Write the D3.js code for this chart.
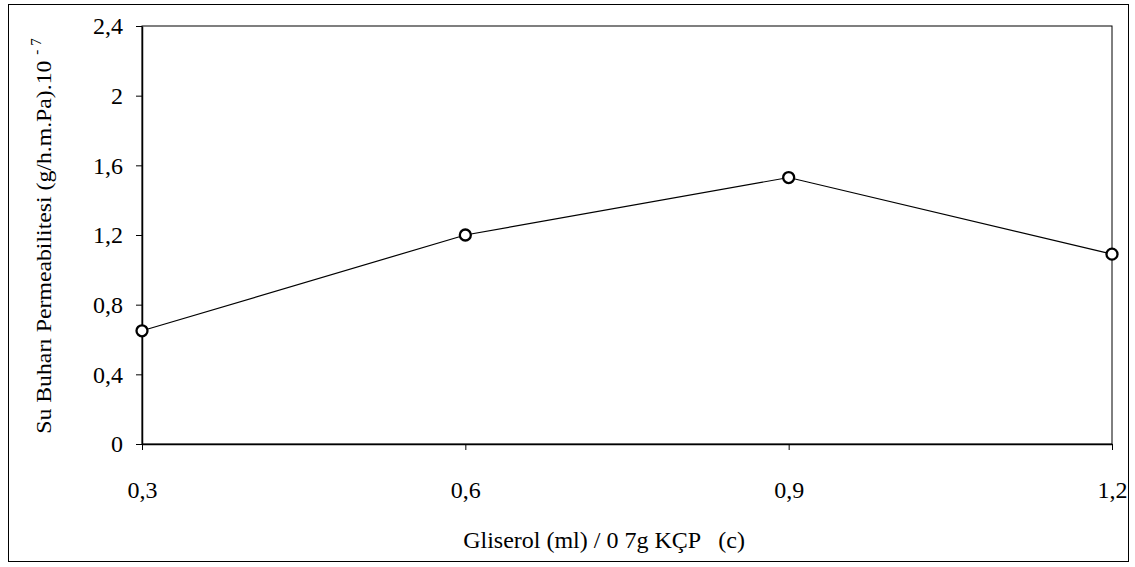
<!DOCTYPE html>
<html lang="tr">
<head>
<meta charset="UTF-8">
<title>Su Buharı Permeabilitesi</title>
<script src="https://d3js.org/d3.v7.min.js"></script>
<style>
  body { margin: 0; background: #fff; }
  text { font-family: "Liberation Serif", "Times New Roman", serif; fill: #000; }
</style>
</head>
<body>
<script>
// data
const glycerol = [0.3, 0.6, 0.9, 1.2];
const permeability = [0.65, 1.2, 1.53, 1.09];
const yTicks = [0, 0.4, 0.8, 1.2, 1.6, 2, 2.4];

const W = 1135, H = 567;
const margin = {top: 26, right: 23, bottom: 123, left: 142};
const width = W - margin.left - margin.right;
const height = H - margin.top - margin.bottom;

const svg = d3.select("body").append("svg")
    .attr("width", W)
    .attr("height", H);

// outer frame
svg.append("rect")
    .attr("x", 8.5).attr("y", 4.5)
    .attr("width", 1120).attr("height", 557)
    .attr("fill", "none").attr("stroke", "#000").attr("stroke-width", 1);

const g = svg.append("g")
    .attr("transform", `translate(${margin.left},${margin.top})`);

const x = d3.scaleLinear().domain([0.3, 1.2]).range([0, width]);
const y = d3.scaleLinear().domain([0, 2.4]).range([height, 0]);

const comma = d => String(d).replace(".", ",");

// plot area box
g.append("rect")
    .attr("width", width).attr("height", height)
    .attr("fill", "none").attr("stroke", "#000").attr("stroke-width", 1);

// axes
const xAxis = g.append("g")
    .attr("transform", `translate(0,${height})`)
    .call(d3.axisBottom(x).tickValues(glycerol).tickFormat(comma).tickSize(6).tickSizeOuter(0));
const yAxis = g.append("g")
    .call(d3.axisLeft(y).tickValues(yTicks).tickFormat(comma).tickSize(6).tickSizeOuter(0));

[xAxis, yAxis].forEach(a => {
    a.attr("font-size", null).attr("font-family", null);
    a.select(".domain").attr("stroke", "#000").attr("stroke-width", 1.5);
    a.selectAll(".tick line").attr("stroke", "#000");
    a.selectAll(".tick text").style("font-size", "24px");
});
xAxis.selectAll(".tick text").attr("y", 54).attr("dy", 0);
yAxis.selectAll(".tick text").attr("x", -19);

// line and markers
const pts = glycerol.map((v, i) => [v, permeability[i]]);
g.append("path")
    .datum(pts)
    .attr("fill", "none")
    .attr("stroke", "#000")
    .attr("stroke-width", 1.2)
    .attr("d", d3.line().x(d => x(d[0])).y(d => y(d[1])));

g.selectAll(".dot")
    .data(pts)
    .enter()
    .append("circle")
    .attr("class", "dot")
    .attr("cx", d => x(d[0]))
    .attr("cy", d => y(d[1]))
    .attr("r", 5.5)
    .attr("fill", "#fff")
    .attr("stroke", "#000")
    .attr("stroke-width", 2.3);

// x axis title
svg.append("text")
    .attr("x", 604).attr("y", 548)
    .attr("text-anchor", "middle")
    .style("font-size", "24px")
    .style("white-space", "pre")
    .text("Gliserol (ml) / 0 7g KÇP   (c)");

// y axis title with superscript
const yt = svg.append("text")
    .attr("transform", "translate(51,236) rotate(-90) scale(1.08,1)")
    .attr("text-anchor", "middle")
    .style("font-size", "22px");
yt.append("tspan").text("Su Buharı Permeabilitesi (g/h.m.Pa).10 ");
yt.append("tspan").attr("dy", -10).style("font-size", "14px").text("- 7");
</script>
</body>
</html>
